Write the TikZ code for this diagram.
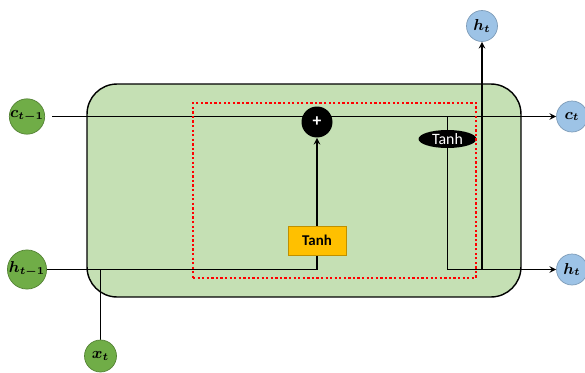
\documentclass[tikz,border=0pt]{standalone}
\usepackage{amsmath}
\usepackage{bm}
\usepackage{fontspec}
\newfontfamily\calibri{Carlito}
\usetikzlibrary{shapes.geometric, arrows, calc, positioning, backgrounds}
\definecolor{cellgreen}{HTML}{C5E0B4}
\definecolor{ingreen}{HTML}{70AD47}
\definecolor{outblue}{HTML}{9DC3E6}
\definecolor{gateyellow}{HTML}{FFC000}
\tikzstyle{input} = [circle, inner sep=0pt, minimum size=0.64cm, fill=ingreen, draw=ingreen!75!black, thin, font=\fontsize{9}{10}\selectfont]
\tikzstyle{output} = [circle, inner sep=0pt, minimum size=0.62cm, fill=outblue, draw=outblue!80!black, thin, font=\fontsize{9}{10}\selectfont]
\tikzstyle{layer} = [rectangle, minimum width=1.16cm, minimum height=0.58cm, fill=gateyellow, draw=gateyellow!75!black, thin, font=\calibri\bfseries\fontsize{8.5}{10}\selectfont]
\tikzstyle{pointwise} = [ellipse, inner sep=0pt, minimum width=1.16cm, minimum height=0.36cm, fill=black, text=white, font=\calibri\fontsize{9}{10}\selectfont]
\tikzstyle{cellbox} = [rectangle, rounded corners=0.6cm, minimum width=8.68cm, minimum height=4.26cm, fill=cellgreen, draw=black, line width=0.8pt]
\tikzstyle{repeat} = [rectangle, minimum width=5.66cm, minimum height=3.5cm, draw=red, line width=1.3pt, dash pattern=on 1.3pt off 1.3pt]
\tikzstyle{line} = [line width=0.7pt]
\tikzstyle{arrow} = [line width=0.7pt,->,>=stealth]

\begin{document}
\begin{tikzpicture}[x=0.02cm, y=-0.02cm]
	\useasboundingbox (0,0) rectangle (585,372);
	\node (ctprev) [input] at (27,116.5) {$\bm{c_{t-1}}$};
	\node (htprev) [input] at (27,269.5) {$\bm{h_{t-1}}$};
	\node (xt) [input] at (100.5,356) {$\bm{x_t}$};
	\node (ct) [output] at (572,116.5) {$\bm{c_t}$};
	\node (ht) [output] at (572,269.5) {$\bm{h_t}$};
	\node (htup) [output] at (482,26) {$\bm{h_t}$};
	\node (plus) [circle, fill=black, text=white, inner sep=0pt, minimum size=0.62cm, font=\calibri\bfseries\fontsize{10}{10}\selectfont] at (317,122) {+};
	\node (tanhgate) [layer] at (317,240.5) {Tanh};
	\node (tanhcell) [pointwise] at (447.5,139) {Tanh};
	\node (repeat) [repeat] at (334.5,190.5) {};
	\begin{scope}[on background layer]
		\node (cell) [cellbox] at (304,190.5) {};
		\draw [arrow, shorten <=4pt] (ctprev.east) -- (ct.west);
		\draw [arrow] (htprev.east) -| (plus.south);
		\draw [line] (xt.north) -- (xt.north |- htprev);
		\draw [arrow] (tanhcell.center |- ct) -- (tanhcell.center |- ht) -- (ht.west);
		\draw [arrow] (htup.south |- ht) -- (htup.south);
	\end{scope}
\end{tikzpicture}
\end{document}
